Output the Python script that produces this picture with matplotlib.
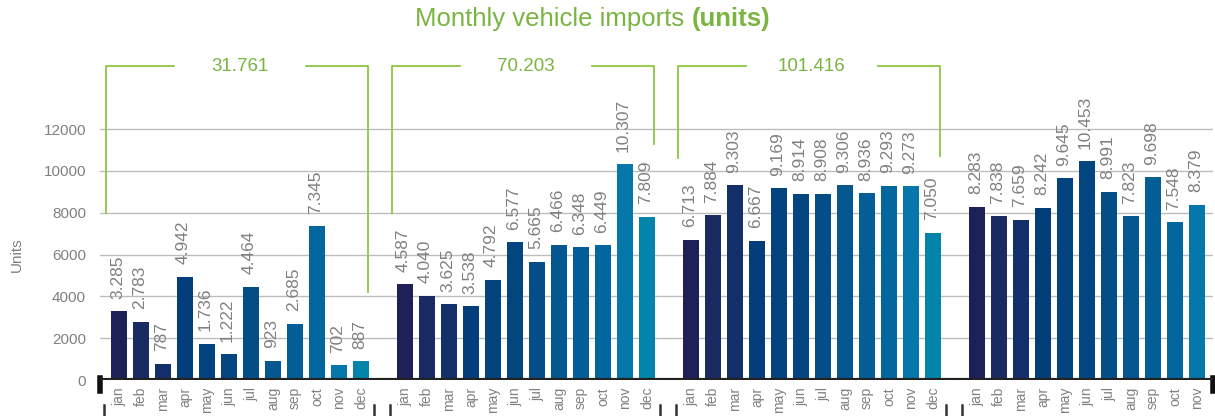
import numpy as np
import matplotlib
matplotlib.use('Agg')
import matplotlib.pyplot as plt
import matplotlib.transforms as mtransforms

plt.rcParams['font.family'] = ['Liberation Sans', 'DejaVu Sans']

# monthly vehicle imports, one list per year
months = ['jan', 'feb', 'mar', 'apr', 'may', 'jun', 'jul', 'aug', 'sep', 'oct', 'nov', 'dec']
years = ['2014', '2015', '2016', '2017']
imports_2014 = [3285, 2783, 787, 4942, 1736, 1222, 4464, 923, 2685, 7345, 702, 887]
imports_2015 = [4587, 4040, 3625, 3538, 4792, 6577, 5665, 6466, 6348, 6449, 10307, 7809]
imports_2016 = [6713, 7884, 9303, 6667, 9169, 8914, 8908, 9306, 8936, 9293, 9273, 7050]
imports_2017 = [8283, 7838, 7659, 8242, 9645, 10453, 8991, 7823, 9698, 7548, 8379]
all_years = [imports_2014, imports_2015, imports_2016, imports_2017]

# colour per month (dark navy -> teal)
month_colors = ['#1d2158', '#1a2a62', '#13306b', '#033d7a', '#03437e', '#02457f',
                '#044e87', '#04578f', '#035e97', '#02669f', '#0677ab', '#0385ab']

# where the yearly total brackets end (in units), only full years get one
bracket_left_end = [8000, 8000, 10600]
bracket_right_end = [4200, 11300, 10700]
bracket_top = 15000

grey = '#808080'
green_txt = '#7ab441'
green_line = '#8dc63f'

def fmt(v):
    # european style thousands separator
    return f"{v:,}".replace(',', '.')

fig = plt.figure(figsize=(12.15, 4.16), dpi=100)
ax = fig.add_axes([100/1215, 36/416, 1113/1215, 320/416])

tick_pos = []
tick_lab = []
for k, vals in enumerate(all_years):
    pos = [k*13 + i for i in range(len(vals))]
    ax.bar(pos, vals, width=0.73, color=month_colors[:len(vals)], zorder=2)
    for p, v in zip(pos, vals):
        ax.annotate(fmt(v), (p, v), xytext=(-1, 9), textcoords='offset points',
                    rotation=90, ha='center', va='bottom', color=grey, fontsize=12.5)
    tick_pos += pos
    tick_lab += months[:len(vals)]

ax.set_xlim(-0.86, -0.86 + 1113/22)
ax.set_ylim(0, 15300)

# gridlines
for g in range(2000, 13000, 2000):
    ax.axhline(g, color='#bdbdbd', lw=1, zorder=1)
ax.axhline(0, color='#222222', lw=3, zorder=3)

ax.set_yticks(range(0, 13000, 2000))
ax.set_yticklabels([str(t) for t in range(0, 13000, 2000)], color=grey, fontsize=11)
ax.set_xticks(tick_pos)
ax.set_xticklabels(tick_lab, rotation=90, color=grey, fontsize=10)
ax.tick_params(length=0)
ax.tick_params(axis='y', pad=10)
ax.tick_params(axis='x', pad=5)
for s in ax.spines.values():
    s.set_visible(False)

# brackets with yearly totals
for k in range(3):
    vals = all_years[k]
    start = k*13
    end = start + len(vals) - 1
    left = start - 0.6
    right = end + 0.3
    mid = (start + end) / 2
    ax.plot([left, left, mid - 3], [bracket_left_end[k], bracket_top, bracket_top],
            color=green_line, lw=1.3, clip_on=False)
    ax.plot([mid + 3, right, right], [bracket_top, bracket_top, bracket_right_end[k]],
            color=green_line, lw=1.3, clip_on=False)
    ax.text(mid, bracket_top, fmt(sum(vals)), ha='center', va='center',
            color=green_txt, fontsize=13.5)

# little black end ticks on the base line
trans = mtransforms.blended_transform_factory(ax.transAxes, ax.transAxes)
for xa in [0, 1]:
    ax.plot([xa, xa], [0.005, -0.035], color='#111111', lw=4, transform=trans, clip_on=False)

# year markers under the month labels (cut off at the bottom)
trans2 = mtransforms.blended_transform_factory(ax.transData, ax.transAxes)
for k, vals in enumerate(all_years):
    start = k*13
    end = start + len(vals) - 1
    ax.plot([start - 0.7, start - 0.7], [-0.078, -0.12], color='#333333', lw=1.8,
            transform=trans2, clip_on=False)
    if len(vals) == 12:
        ax.plot([end + 0.6, end + 0.6], [-0.078, -0.12], color='#333333', lw=1.8,
                transform=trans2, clip_on=False)

fig.text(17/1215, 1 - 255/416, 'Units', rotation=90, ha='center', va='center',
         color=grey, fontsize=11)

# title, last part in bold
fig.text(684/1215, 1 - 19/416, 'Monthly vehicle imports', ha='right', va='center',
         color=green_txt, fontsize=18.5)
fig.text(692/1215, 1 - 19/416, '(units)', ha='left', va='center',
         color=green_txt, fontsize=18.5, fontweight='bold')

fig.savefig('out.png', dpi=100)
